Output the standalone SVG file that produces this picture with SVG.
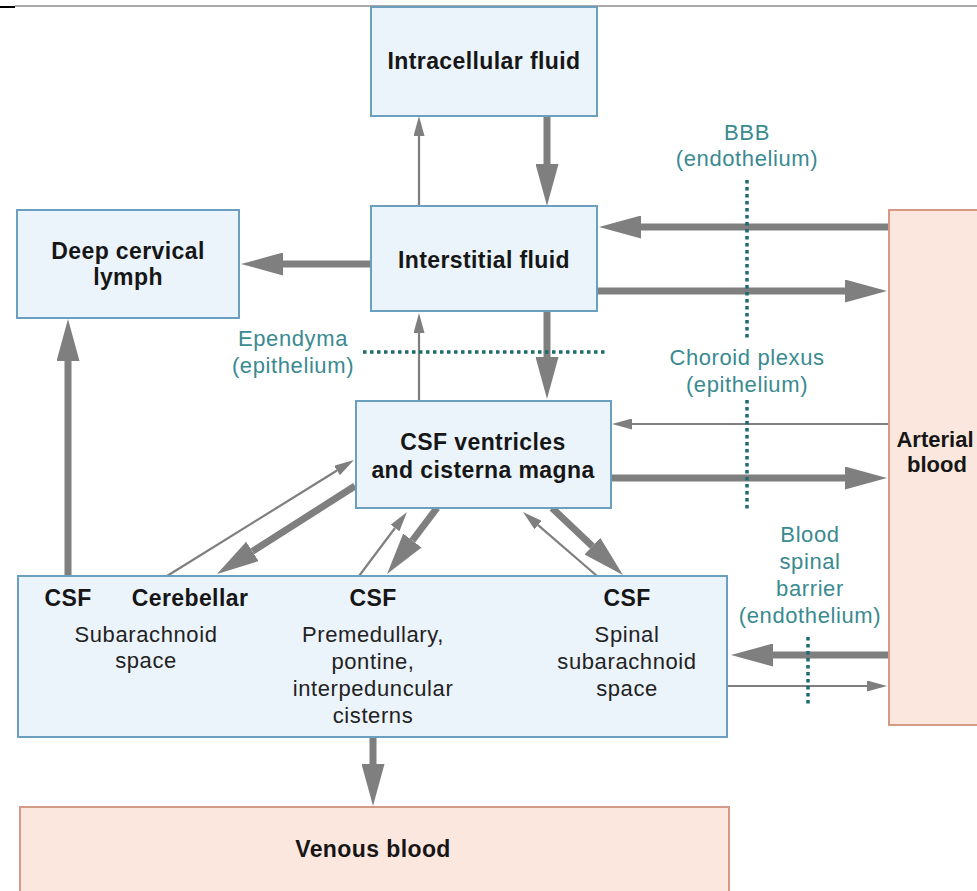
<svg xmlns="http://www.w3.org/2000/svg" width="977" height="891" viewBox="0 0 977 891">
<defs>
<style>
.blue{fill:#ebf3fb;stroke:#6a9fbf;stroke-width:2}
.salmon{fill:#fce7de;stroke:#d49a87;stroke-width:2}
.b{font-family:"Liberation Sans",Arial,sans-serif;font-weight:bold;font-size:23px;letter-spacing:0.4px;fill:#161616;text-anchor:middle}
.r{font-family:"Liberation Sans",Arial,sans-serif;font-size:22px;letter-spacing:0.6px;fill:#222;text-anchor:middle}
.t{font-family:"Liberation Sans",Arial,sans-serif;font-size:22px;letter-spacing:0.6px;fill:#3a8a90;text-anchor:middle}
.thick{stroke:#7f7f7f;stroke-width:7;fill:none;marker-end:url(#hk)}
.thin{stroke:#7f7f7f;stroke-width:2.2;fill:none;marker-end:url(#hn)}
.dot{stroke:#1d6b70;stroke-width:3.5;stroke-dasharray:3.5 3.5;fill:none}
</style>
<marker id="hk" markerUnits="userSpaceOnUse" markerWidth="42" markerHeight="23" viewBox="0 0 42 23" refX="0" refY="11.5" orient="auto"><path d="M0,0 L42,11.5 L0,23 z" fill="#7f7f7f"/></marker>
<marker id="hn" markerUnits="userSpaceOnUse" markerWidth="20" markerHeight="11" viewBox="0 0 20 11" refX="0" refY="5.5" orient="auto"><path d="M0,0 L20,5.5 L0,11 z" fill="#7f7f7f"/></marker>
</defs>
<rect width="977" height="891" fill="#ffffff"/>
<line x1="15" y1="6" x2="977" y2="6" stroke="#555" stroke-width="1.2"/>
<line x1="0" y1="7" x2="15" y2="7" stroke="#000" stroke-width="2"/>

<g id="connectors">
<line class="thin" x1="419" y1="206" x2="419" y2="136"/>
<line class="thick" x1="547" y1="116" x2="547" y2="164"/>
<line class="thick" x1="371" y1="264" x2="283" y2="264"/>
<line class="thick" x1="889" y1="227" x2="641" y2="227"/>
<line class="thick" x1="597" y1="291" x2="845" y2="291"/>
<line class="thin" x1="419" y1="401" x2="419" y2="333"/>
<line class="thick" x1="547" y1="311" x2="547" y2="357"/>
<line class="thin" x1="889" y1="424" x2="632" y2="424"/>
<line class="thick" x1="611" y1="478" x2="845" y2="478"/>
<line class="thick" x1="68" y1="576" x2="68" y2="361"/>
<line class="thin" x1="167" y1="576" x2="337" y2="470.5"/>
<line class="thick" x1="355" y1="486" x2="252.4" y2="551.4"/>
<line class="thin" x1="359" y1="576" x2="395" y2="528"/>
<line class="thick" x1="437" y1="508" x2="412.4" y2="540.5"/>
<line class="thin" x1="597" y1="576" x2="538.1" y2="525.1"/>
<line class="thick" x1="552" y1="508" x2="592.4" y2="546.2"/>
<line class="thick" x1="889" y1="655" x2="773" y2="655"/>
<line class="thin" x1="727" y1="686" x2="867" y2="686"/>
<line class="thick" x1="373" y1="737" x2="373" y2="764"/>
</g>

<g id="barriers">
<line class="dot" x1="747" y1="180" x2="747" y2="338"/>
<line class="dot" x1="747" y1="400" x2="747" y2="511"/>
<line class="dot" x1="363" y1="352" x2="606" y2="352"/>
<line class="dot" x1="808" y1="637" x2="808" y2="706"/>
<text class="t" x="747" y="140">BBB</text>
<text class="t" x="747" y="166">(endothelium)</text>
<text class="t" x="293" y="346">Ependyma</text>
<text class="t" x="293" y="373">(epithelium)</text>
<text class="t" x="747" y="365">Choroid plexus</text>
<text class="t" x="747" y="392">(epithelium)</text>
<text class="t" x="810" y="542">Blood</text>
<text class="t" x="810" y="569">spinal</text>
<text class="t" x="810" y="596">barrier</text>
<text class="t" x="810" y="623">(endothelium)</text>
</g>

<g id="intracellular">
<rect class="blue" x="371" y="7" width="226" height="109"/>
<text class="b" x="484" y="69">Intracellular fluid</text>
</g>
<g id="interstitial">
<rect class="blue" x="371" y="206" width="226" height="105"/>
<text class="b" x="484" y="268">Interstitial fluid</text>
</g>
<g id="deep-cervical-lymph">
<rect class="blue" x="17" y="210" width="222" height="108"/>
<text class="b" x="128" y="259">Deep cervical</text>
<text class="b" x="128" y="285">lymph</text>
</g>
<g id="csf-ventricles">
<rect class="blue" x="356" y="401" width="255" height="107"/>
<text class="b" x="483" y="450">CSF ventricles</text>
<text class="b" x="483" y="478">and cisterna magna</text>
</g>
<g id="arterial-blood">
<rect class="salmon" x="889" y="210" width="100" height="515"/>
<text class="b" x="935" y="447" style="font-size:22px;letter-spacing:0">Arterial</text>
<text class="b" x="937" y="472" style="font-size:22px;letter-spacing:0">blood</text>
</g>
<g id="csf-spaces">
<rect class="blue" x="18" y="576" width="709" height="161"/>
<text class="b" x="68" y="606">CSF</text>
<text class="b" x="190" y="606">Cerebellar</text>
<text class="r" x="146" y="642">Subarachnoid</text>
<text class="r" x="146" y="668">space</text>
<text class="b" x="373" y="606">CSF</text>
<text class="r" x="373" y="642">Premedullary,</text>
<text class="r" x="373" y="669">pontine,</text>
<text class="r" x="373" y="696">interpeduncular</text>
<text class="r" x="373" y="723">cisterns</text>
<text class="b" x="627" y="606">CSF</text>
<text class="r" x="627" y="642">Spinal</text>
<text class="r" x="627" y="669">subarachnoid</text>
<text class="r" x="627" y="696">space</text>
</g>
<g id="venous-blood">
<rect class="salmon" x="20" y="807" width="709" height="100"/>
<text class="b" x="373" y="857">Venous blood</text>
</g>
</svg>
